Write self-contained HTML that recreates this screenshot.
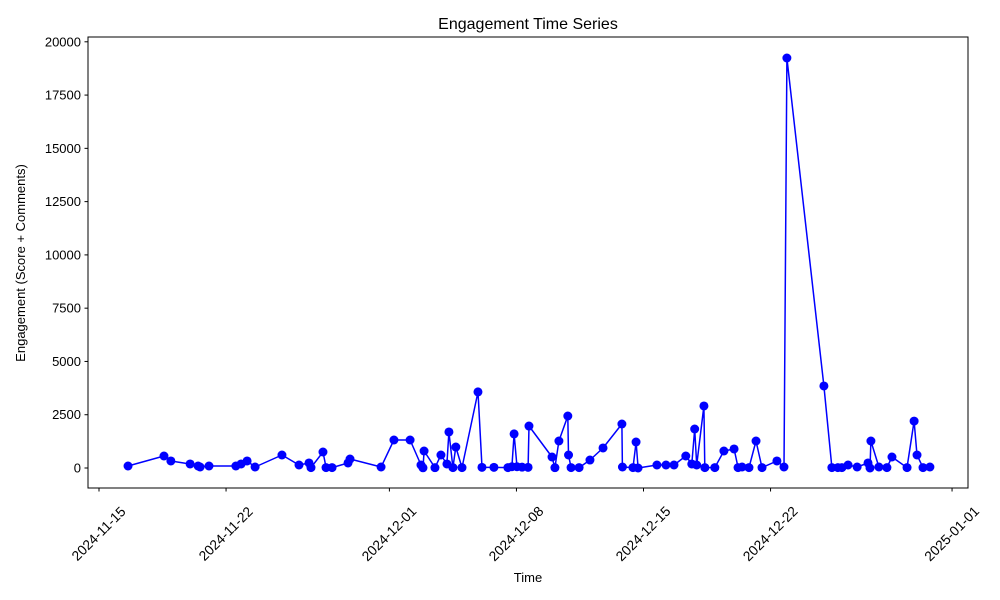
<!DOCTYPE html>
<html><head><meta charset="utf-8"><style>
body{margin:0;background:#fff;}
svg{display:block;font-family:"Liberation Sans","DejaVu Sans",sans-serif;}
</style></head><body>
<svg id="chart" width="1000" height="600" viewBox="0 0 1000 600">
<rect width="1000" height="600" fill="#fff"/>
<text x="528" y="29" font-size="16" text-anchor="middle">Engagement Time Series</text>
<text x="528" y="582" font-size="13" text-anchor="middle">Time</text>
<text transform="translate(25,263) rotate(-90)" font-size="13" text-anchor="middle">Engagement (Score + Comments)</text>
<g id="grid"></g>
<g id="series"></g>
<rect x="88" y="37" width="880" height="451" fill="none" stroke="#000" stroke-width="1"/>
</svg>
<script>
// days since 2024-11-15
const days=[1.60,3.58,3.96,5.02,5.46,5.57,6.06,7.54,7.83,8.16,8.60,10.08,11.02,11.57,11.68,12.34,12.51,12.84,13.72,13.83,15.54,16.25,17.14,17.74,17.85,17.91,18.51,18.84,19.17,19.28,19.50,19.66,20.00,20.88,21.10,21.76,22.53,22.75,22.87,23.03,23.31,23.64,23.69,24.96,25.12,25.34,25.83,25.87,26.01,26.45,27.05,27.77,28.81,28.84,29.42,29.59,29.70,30.74,31.24,31.68,32.33,32.66,32.82,32.93,33.33,33.38,33.93,34.43,34.99,35.21,35.43,35.81,36.20,36.53,37.35,37.74,37.90,39.94,40.38,40.71,40.93,41.27,41.77,42.37,42.48,42.53,42.97,43.41,43.69,44.52,44.91,45.07,45.40,45.78];
const engagement=[94,563,329,188,94,47,94,94,188,329,47,610,141,235,20,751,20,20,235,422,47,1314,1314,141,10,798,15,610,188,1690,20,985,20,3570,30,30,20,60,1600,60,40,30,1970,516,15,1267,2440,610,20,20,375,939,2065,47,20,1220,0,141,141,141,563,188,1830,141,2910,20,20,798,892,20,47,20,1267,20,329,47,19240,3850,20,20,20,141,47,235,0,1267,47,20,516,20,2200,610,20,47];
const yTicks=[0,2500,5000,7500,10000,12500,15000,17500,20000];
const xTickDays=[0,7,16,23,30,37,47];
const xTickLabels=["2024-11-15","2024-11-22","2024-12-01","2024-12-08","2024-12-15","2024-12-22","2025-01-01"];

const NS="http://www.w3.org/2000/svg";
const xS=d=>99+d*18.15;
const yS=v=>468-v*0.02131;
const grid=document.getElementById('grid');
const ser=document.getElementById('series');
function mk(tag,attrs,parent){const e=document.createElementNS(NS,tag);for(const k in attrs)e.setAttribute(k,attrs[k]);parent.appendChild(e);return e;}

yTicks.forEach(t=>{
  const y=yS(t);
  const l=mk('line',{x1:84.5,x2:88,y1:y,y2:y,stroke:'#000'},grid);
  
  
  const tx=mk('text',{x:81,y:y+4.5,'font-size':13,'text-anchor':'end'},grid);
  tx.textContent=t;
  
  
});
xTickDays.forEach((d,i)=>{
  const x=xS(d);
  const l=mk('line',{x1:x,x2:x,y1:488,y2:491.5,stroke:'#000'},grid);
  
  
  const tx=mk('text',{transform:`translate(${x+3},${537}) rotate(-45)`,'font-size':13.8,'text-anchor':'middle'},grid);
  tx.textContent=xTickLabels[i];
  
  
});
const pts=days.map((d,i)=>xS(d).toFixed(1)+','+yS(engagement[i]).toFixed(1)).join(' ');
const pl=mk('polyline',{points:pts,fill:'none',stroke:'#0000ff','stroke-width':1.5,'stroke-linejoin':'round'},ser);


days.forEach((d,i)=>{
  const c=mk('circle',{cx:xS(d),cy:yS(engagement[i]),r:4.5,fill:'#0000ff'},ser);
  
  
});
</script>
</body></html>
